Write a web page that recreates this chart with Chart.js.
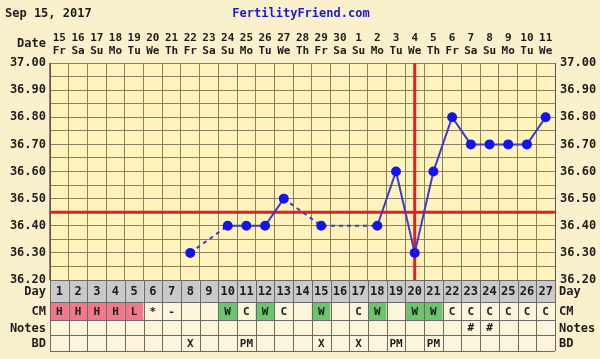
<!DOCTYPE html>
<html>
<head>
<meta charset="utf-8">
<title>Fertility chart</title>
<script src="https://cdn.jsdelivr.net/npm/chart.js@4"></script>
<style>
    body { margin: 0; background: #fbf0cc; }
    canvas { display: block; }
</style>
</head>
<body>
<canvas id="bbtChart" width="600" height="359"></canvas>
<script>
// Chart data
const cycleDays = ['1', '2', '3', '4', '5', '6', '7', '8', '9', '10', '11', '12', '13', '14', '15', '16', '17', '18', '19', '20', '21', '22', '23', '24', '25', '26', '27'];
const dates = ['15', '16', '17', '18', '19', '20', '21', '22', '23', '24', '25', '26', '27', '28', '29', '30', '1', '2', '3', '4', '5', '6', '7', '8', '9', '10', '11'];
const weekdays = ['Fr', 'Sa', 'Su', 'Mo', 'Tu', 'We', 'Th', 'Fr', 'Sa', 'Su', 'Mo', 'Tu', 'We', 'Th', 'Fr', 'Sa', 'Su', 'Mo', 'Tu', 'We', 'Th', 'Fr', 'Sa', 'Su', 'Mo', 'Tu', 'We'];
const temps = [null, null, null, null, null, null, null, 36.30, null, 36.40, 36.40, 36.40, 36.50, null, 36.40, null, null, 36.40, 36.60, 36.30, 36.60, 36.80, 36.70, 36.70, 36.70, 36.70, 36.80];
const cmValues = ['H', 'H', 'H', 'H', 'L', '*', '-', '', '', 'W', 'C', 'W', 'C', '', 'W', '', 'C', 'W', '', 'W', 'W', 'C', 'C', 'C', 'C', 'C', 'C'];
const notes = ['', '', '', '', '', '', '', '', '', '', '', '', '', '', '', '', '', '', '', '', '', '', '#', '#', '', '', ''];
const bdValues = ['', '', '', '', '', '', '', 'X', '', '', 'PM', '', '', '', 'X', '', 'X', '', 'PM', '', 'PM', '', '', '', '', '', ''];
const coverline = 36.45;
const ovulationDay = '20';
const chartDate = 'Sep 15, 2017';
const siteName = 'FertilityFriend.com';

const FONT = '"DejaVu Sans Mono", monospace';
const INK = '#1c1c1c';
const GRID = '#8a8060';

const cmColor = (v) => (v === 'H' || v === 'L') ? '#f0788a' : (v === 'W' ? '#6cc46c' : '#fdf4dc');

// Red coverline + ovulation line, under the temps
const coverlinePlugin = {
    id: 'coverline',
    beforeDatasetsDraw(chart) {
        const { ctx, chartArea: a, scales: { x, y } } = chart;
        ctx.save();
        ctx.strokeStyle = '#e02020';
        ctx.lineWidth = 3;
        const cy = y.getPixelForValue(coverline);
        ctx.beginPath(); ctx.moveTo(a.left, cy); ctx.lineTo(a.right, cy); ctx.stroke();
        const ox = x.getPixelForValue(cycleDays.indexOf(ovulationDay));
        ctx.beginPath(); ctx.moveTo(ox, a.top); ctx.lineTo(ox, a.bottom); ctx.stroke();
        ctx.restore();
    }
};

// Header, date row and the table under the chart
const tablePlugin = {
    id: 'ffTable',
    afterDraw(chart) {
        const { ctx, chartArea: a, scales: { x } } = chart;
        const colW = (a.right - a.left) / cycleDays.length;
        ctx.save();
        ctx.textBaseline = 'middle';

        ctx.font = 'bold 12px ' + FONT;
        ctx.fillStyle = INK;
        ctx.textAlign = 'left';
        ctx.fillText(chartDate, 5, 14);
        ctx.fillStyle = '#1a1acc';
        ctx.textAlign = 'center';
        ctx.fillText(siteName, 301, 14);

        ctx.fillStyle = INK;
        ctx.textAlign = 'right';
        ctx.fillText('Date', 46, 44);
        ctx.font = 'bold 11px ' + FONT;
        ctx.textAlign = 'center';
        dates.forEach((d, i) => {
            const cx = x.getPixelForValue(i);
            ctx.fillText(d, cx, 38);
            ctx.fillText(weekdays[i], cx, 51);
        });

        const rows = [
            { label: 'Day', top: 280, h: 22, values: cycleDays, fill: () => '#c9c9c9' },
            { label: 'CM', top: 302, h: 18, values: cmValues, fill: cmColor },
            { label: 'Notes', top: 320, h: 15, values: notes, fill: () => '#fdf4dc' },
            { label: 'BD', top: 335, h: 16, values: bdValues, fill: () => '#fdf4dc' }
        ];
        rows.forEach(row => {
            row.values.forEach((v, i) => {
                const left = a.left + i * colW;
                ctx.fillStyle = row.fill(v);
                ctx.fillRect(left, row.top, colW, row.h);
                ctx.fillStyle = INK;
                ctx.font = 'bold ' + (row.label === 'Day' ? 12 : 11) + 'px ' + FONT;
                ctx.textAlign = 'center';
                ctx.fillText(v, left + colW / 2, row.top + row.h / 2 + 1);
            });
            ctx.font = 'bold 12px ' + FONT;
            ctx.textAlign = 'right';
            ctx.fillText(row.label, 46, row.top + row.h / 2 + 1);
            ctx.textAlign = 'left';
            ctx.fillText(row.label, 559, row.top + row.h / 2 + 1);
        });

        // cell borders
        ctx.strokeStyle = '#6a6a6a';
        ctx.lineWidth = 1;
        const bottom = 351;
        ctx.beginPath();
        for (let i = 0; i <= cycleDays.length; i++) {
            const px = Math.round(a.left + i * colW) + 0.5;
            ctx.moveTo(px, a.bottom); ctx.lineTo(px, bottom);
        }
        rows.forEach(row => { ctx.moveTo(a.left, row.top + 0.5); ctx.lineTo(a.right, row.top + 0.5); });
        ctx.moveTo(a.left, bottom + 0.5); ctx.lineTo(a.right, bottom + 0.5);
        ctx.stroke();
        ctx.restore();
    }
};

const plotBackground = {
    id: 'plotBackground',
    beforeDraw(chart) {
        const { ctx, chartArea: a } = chart;
        ctx.save();
        ctx.fillStyle = '#fbf0cc';
        ctx.fillRect(0, 0, chart.width, chart.height);
        ctx.fillStyle = '#fff3bb';
        ctx.fillRect(a.left, a.top, a.right - a.left, a.bottom - a.top);
        ctx.restore();
    }
};

const tempTick = (v) => Math.round(v * 100) % 10 === 0 ? v.toFixed(2) : '';
const tickFont = { family: FONT, weight: 'bold', size: 12 };

new Chart(document.getElementById('bbtChart'), {
    type: 'line',
    data: {
        labels: cycleDays,
        datasets: [{
            data: temps,
            borderColor: '#3c3cc8',
            borderWidth: 2,
            pointRadius: 4,
            pointBackgroundColor: '#1414f0',
            pointBorderColor: '#1414f0',
            tension: 0,
            spanGaps: true,
            // dashed across days with no temperature
            segment: {
                borderDash: (c) => (c.p0.skip || c.p1.skip) ? [4, 4] : undefined
            }
        }]
    },
    options: {
        responsive: false,
        animation: false,
        layout: { padding: { top: 63, left: 0, right: 0, bottom: 0 } },
        plugins: { legend: { display: false }, tooltip: { enabled: false } },
        scales: {
            x: {
                offset: true,
                grid: { offset: true, color: GRID, drawTicks: false },
                border: { color: '#555' },
                ticks: { display: false },
                afterFit: (s) => { s.height = 79; }
            },
            y: {
                position: 'left',
                min: 36.2,
                max: 37.0,
                grid: { color: GRID, drawTicks: false },
                border: { color: '#555' },
                ticks: { stepSize: 0.05, autoSkip: false, padding: 4, color: INK, font: tickFont, callback: tempTick },
                afterFit: (s) => { s.width = 50; }
            },
            y2: {
                position: 'right',
                min: 36.2,
                max: 37.0,
                grid: { display: false, drawTicks: false },
                border: { color: '#555' },
                ticks: { stepSize: 0.05, autoSkip: false, padding: 5, color: INK, font: tickFont, callback: tempTick },
                afterFit: (s) => { s.width = 45; }
            }
        }
    },
    plugins: [plotBackground, coverlinePlugin, tablePlugin]
});
</script>
</body>
</html>
